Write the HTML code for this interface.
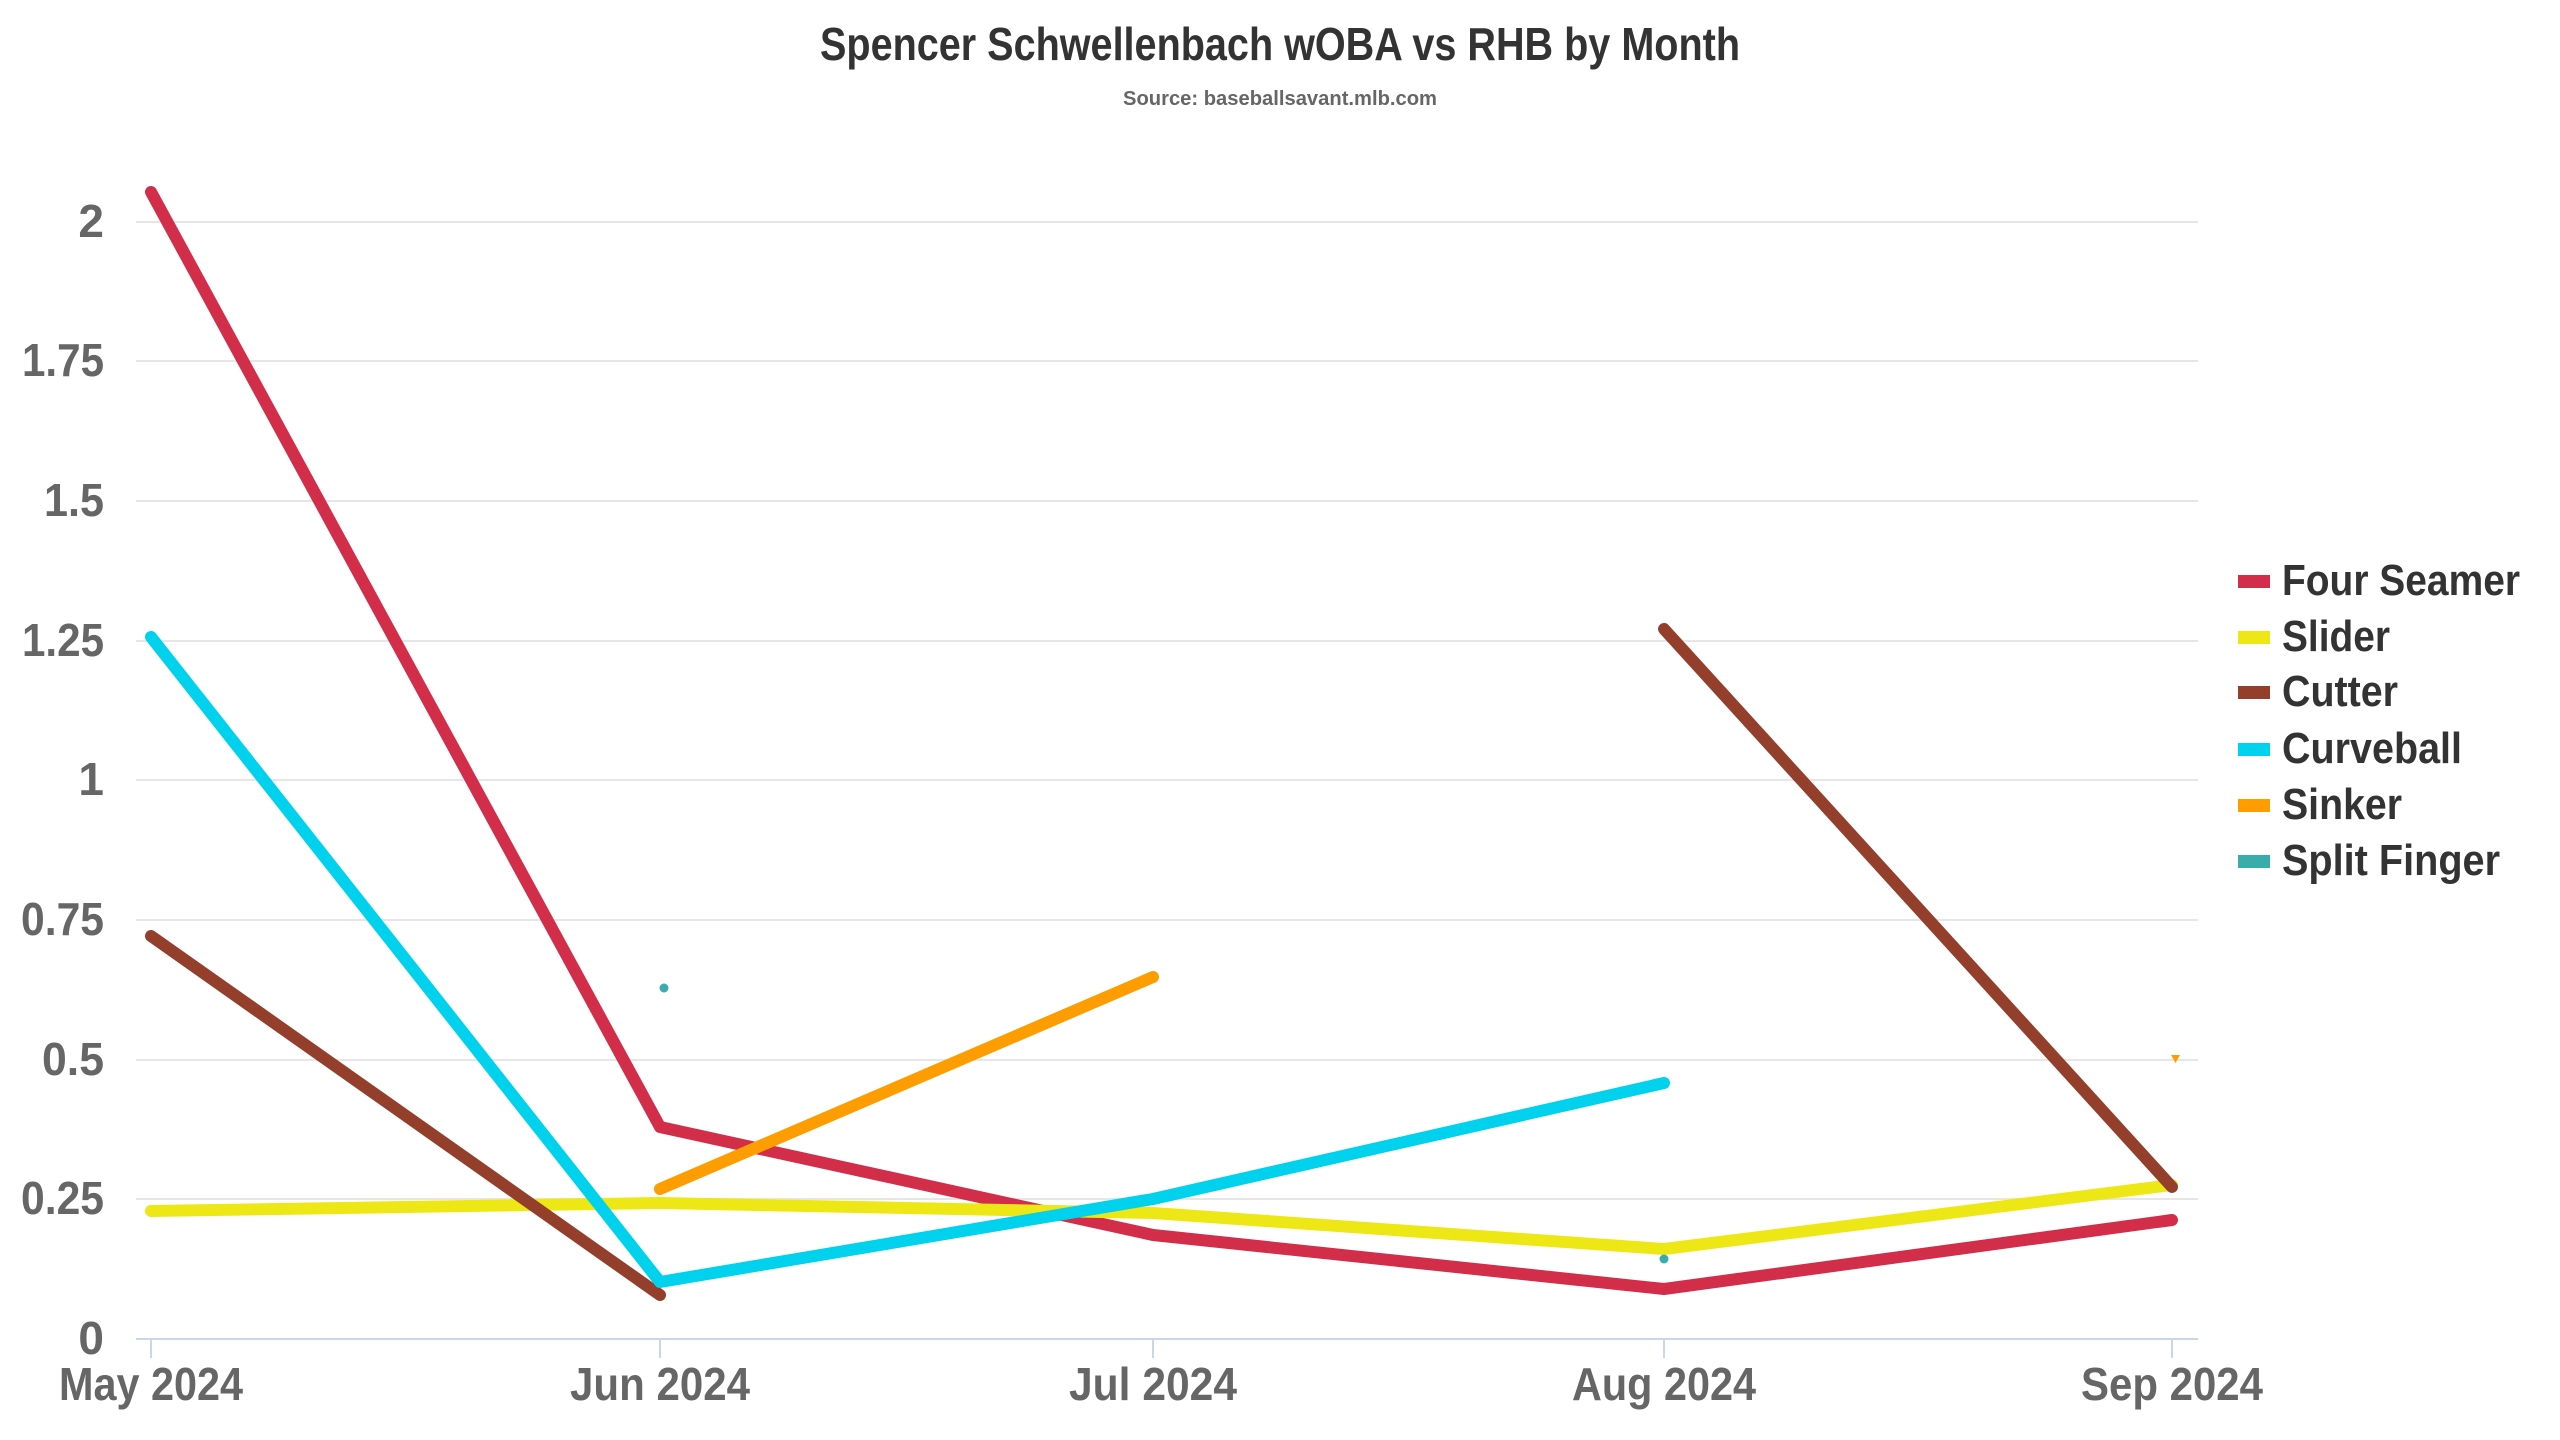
<!DOCTYPE html>
<html><head><meta charset="utf-8"><style>
html,body{margin:0;padding:0;background:#fff;}
svg{display:block;}
text{font-family:"Liberation Sans Narrow","Liberation Sans",sans-serif;font-weight:bold;}
</style></head><body>
<svg width="2560" height="1440" viewBox="0 0 2560 1440" xmlns="http://www.w3.org/2000/svg">
<rect width="2560" height="1440" fill="#fff"/>
<text x="1280" y="60" text-anchor="middle" font-size="46" fill="#333" textLength="920" lengthAdjust="spacingAndGlyphs">Spencer Schwellenbach wOBA vs RHB by Month</text>
<text x="1280" y="105" text-anchor="middle" font-size="20" fill="#666" textLength="314" lengthAdjust="spacingAndGlyphs">Source: baseballsavant.mlb.com</text>
<g stroke="#e6e6e6" stroke-width="2">
<line x1="136" y1="222" x2="2198" y2="222"/>
<line x1="136" y1="361" x2="2198" y2="361"/>
<line x1="136" y1="501" x2="2198" y2="501"/>
<line x1="136" y1="641" x2="2198" y2="641"/>
<line x1="136" y1="780" x2="2198" y2="780"/>
<line x1="136" y1="920" x2="2198" y2="920"/>
<line x1="136" y1="1060" x2="2198" y2="1060"/>
<line x1="136" y1="1199" x2="2198" y2="1199"/>
</g>
<line x1="136" y1="1339" x2="2198" y2="1339" stroke="#ccd6eb" stroke-width="2"/>
<g stroke="#ccd6eb" stroke-width="2">
<line x1="151" y1="1339" x2="151" y2="1358"/>
<line x1="660" y1="1339" x2="660" y2="1358"/>
<line x1="1153" y1="1339" x2="1153" y2="1358"/>
<line x1="1664" y1="1339" x2="1664" y2="1358"/>
<line x1="2172" y1="1339" x2="2172" y2="1358"/>
</g>
<g font-size="46" fill="#666" text-anchor="end">
<text x="104" y="237">2</text>
<text x="104" y="376" textLength="82" lengthAdjust="spacingAndGlyphs">1.75</text>
<text x="104" y="516" textLength="60" lengthAdjust="spacingAndGlyphs">1.5</text>
<text x="104" y="656" textLength="82" lengthAdjust="spacingAndGlyphs">1.25</text>
<text x="104" y="795">1</text>
<text x="104" y="935" textLength="83" lengthAdjust="spacingAndGlyphs">0.75</text>
<text x="104" y="1075" textLength="62" lengthAdjust="spacingAndGlyphs">0.5</text>
<text x="104" y="1214" textLength="83" lengthAdjust="spacingAndGlyphs">0.25</text>
<text x="104" y="1354">0</text>
</g>
<g font-size="46" fill="#666" text-anchor="middle">
<text x="151" y="1400" textLength="184" lengthAdjust="spacingAndGlyphs">May 2024</text>
<text x="660" y="1400" textLength="180" lengthAdjust="spacingAndGlyphs">Jun 2024</text>
<text x="1153" y="1400" textLength="168" lengthAdjust="spacingAndGlyphs">Jul 2024</text>
<text x="1664" y="1400" textLength="184" lengthAdjust="spacingAndGlyphs">Aug 2024</text>
<text x="2172" y="1400" textLength="182" lengthAdjust="spacingAndGlyphs">Sep 2024</text>
</g>
<g fill="none" stroke-width="12" stroke-linecap="round" stroke-linejoin="round">
<polyline stroke="#d22d49" points="151,192 660,1127 1153,1235 1664,1289 2172,1220"/>
<polyline stroke="#eee716" points="151,1211 660,1203 1153,1213 1664,1249 2172,1185"/>
<polyline stroke="#933f2c" points="151,936 660,1295"/>
<polyline stroke="#933f2c" points="1664,629 2172,1187"/>
<polyline stroke="#00d1ed" points="151,637 660,1282 1153,1199 1664,1083"/>
<polyline stroke="#fe9d00" points="660,1189 1153,977"/>
</g>
<polygon points="2171,1055 2180,1055 2175.5,1063" fill="#fe9d00"/>
<circle cx="664" cy="988" r="4.5" fill="#3bacac"/>
<circle cx="1664" cy="1259" r="4.5" fill="#3bacac"/>
<g font-size="44" fill="#333">
<rect x="2238" y="575" width="32" height="13" fill="#d22d49"/>
<text x="2282" y="595" textLength="238" lengthAdjust="spacingAndGlyphs">Four Seamer</text>
<rect x="2238" y="631" width="32" height="13" fill="#eee716"/>
<text x="2282" y="651" textLength="108" lengthAdjust="spacingAndGlyphs">Slider</text>
<rect x="2238" y="686" width="32" height="13" fill="#933f2c"/>
<text x="2282" y="706" textLength="116" lengthAdjust="spacingAndGlyphs">Cutter</text>
<rect x="2238" y="743" width="32" height="13" fill="#00d1ed"/>
<text x="2282" y="763" textLength="180" lengthAdjust="spacingAndGlyphs">Curveball</text>
<rect x="2238" y="799" width="32" height="13" fill="#fe9d00"/>
<text x="2282" y="819" textLength="120" lengthAdjust="spacingAndGlyphs">Sinker</text>
<rect x="2238" y="855" width="32" height="13" fill="#3bacac"/>
<text x="2282" y="875" textLength="218" lengthAdjust="spacingAndGlyphs">Split Finger</text>
</g>
</svg>
</body></html>
